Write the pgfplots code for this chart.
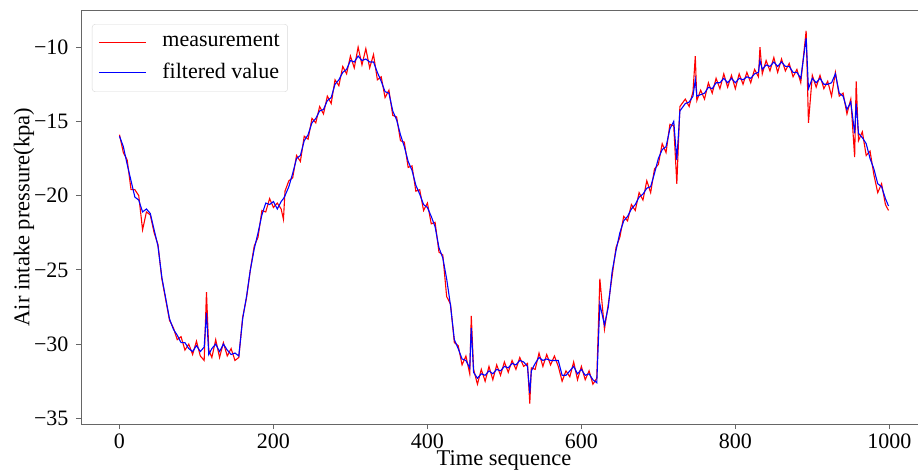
\documentclass[border=0pt]{standalone}
\usepackage{fontspec}
\setmainfont{Liberation Serif}
\usepackage{pgfplots}
\pgfplotsset{compat=1.18}
\pgfplotstableread{
x y
0 -15.9
5 -17.1
10 -17.6
15 -19.6
20 -19.6
25 -20.0
30 -22.3
35 -21.1
40 -21.3
45 -22.5
50 -23.3
55 -25.6
60 -27.0
65 -28.4
70 -28.9
75 -29.7
80 -29.5
85 -30.4
90 -30.0
95 -30.7
100 -29.8
105 -30.8
110 -31.1
113 -26.5
116 -30.4
120 -30.9
125 -29.7
130 -30.9
135 -29.9
140 -30.8
145 -30.3
150 -31.1
155 -30.9
160 -28.2
165 -26.9
170 -25.0
175 -23.4
180 -22.8
185 -21.0
190 -21.1
195 -20.2
200 -20.8
205 -20.5
210 -20.9
213 -21.6
215 -19.7
220 -19.0
225 -18.8
230 -17.3
235 -17.7
240 -16.0
245 -16.2
250 -14.8
255 -15.1
260 -14.0
265 -14.5
270 -13.3
275 -13.8
280 -12.2
285 -12.6
290 -11.3
295 -11.8
300 -10.6
305 -11.4
310 -10.0
315 -11.2
320 -10.1
325 -11.4
330 -10.5
335 -12.2
340 -12.0
345 -13.4
350 -12.9
355 -14.6
360 -14.7
365 -16.3
370 -16.4
375 -18.1
380 -18.0
385 -19.7
390 -19.6
395 -21.0
400 -20.5
405 -21.9
410 -21.8
415 -23.8
420 -24.0
425 -26.8
430 -27.3
435 -29.9
440 -30.1
445 -31.4
450 -30.8
455 -32.0
457 -28.1
460 -31.7
465 -32.7
470 -31.7
475 -32.5
480 -31.5
485 -32.4
490 -31.4
495 -32.1
500 -31.2
505 -31.9
510 -31.1
515 -31.7
520 -30.9
525 -31.5
530 -31.3
533 -34.0
535 -31.6
540 -31.7
545 -30.6
550 -31.5
555 -30.7
560 -31.4
565 -30.8
570 -31.5
575 -32.5
580 -31.8
585 -32.2
590 -31.2
595 -32.4
600 -31.5
605 -32.4
610 -31.8
615 -32.7
620 -32.3
624 -25.6
630 -29.0
635 -27.3
640 -25.4
645 -23.5
650 -22.8
655 -21.4
660 -21.7
665 -20.6
670 -21.0
675 -19.8
680 -20.3
685 -19.0
690 -19.8
695 -18.2
700 -17.9
705 -16.5
710 -17.1
715 -15.2
720 -15.3
724 -19.2
728 -14.0
735 -13.5
740 -14.0
745 -13.0
748 -10.6
750 -13.6
755 -12.9
760 -13.5
765 -12.4
770 -13.1
775 -12.1
780 -12.8
785 -11.8
790 -12.7
795 -11.9
800 -12.8
805 -11.8
810 -12.5
815 -11.7
820 -12.4
825 -11.5
830 -12.0
832 -10.0
835 -11.8
840 -10.9
845 -11.6
850 -10.7
855 -11.7
860 -10.8
865 -11.6
870 -11.1
875 -12.0
880 -11.5
885 -12.4
892 -8.9
895 -15.1
900 -11.9
905 -12.7
910 -11.9
915 -12.8
920 -12.3
925 -13.3
930 -11.7
935 -13.3
940 -13.1
945 -14.5
950 -13.5
955 -17.4
957 -12.3
960 -16.3
965 -15.7
970 -17.3
975 -17.0
980 -18.6
985 -19.8
990 -19.2
995 -20.6
999 -21.0
}\measured
\pgfplotstableread{
x y
0 -16.0
5 -16.7
10 -17.9
15 -19.0
20 -20.1
25 -20.3
30 -21.1
35 -20.9
40 -21.2
45 -22.3
50 -23.4
55 -25.5
60 -26.9
65 -28.3
70 -29.0
75 -29.4
80 -29.9
85 -29.9
90 -30.3
95 -30.5
100 -30.1
105 -30.5
110 -30.2
113 -27.9
116 -30.7
120 -30.3
125 -30.0
130 -30.5
135 -30.0
140 -30.4
145 -30.7
150 -30.6
155 -30.8
160 -28.3
165 -26.8
170 -25.0
175 -23.6
180 -22.5
185 -21.3
190 -20.5
195 -20.6
200 -20.4
205 -20.9
210 -20.4
213 -20.2
215 -20.0
220 -19.4
225 -18.5
230 -17.5
235 -17.3
240 -16.3
245 -15.9
250 -15.1
255 -14.8
260 -14.3
265 -14.2
270 -13.6
275 -13.4
280 -12.5
285 -12.2
290 -11.7
295 -11.5
300 -10.9
305 -11.0
310 -10.6
315 -10.9
320 -10.8
325 -11.0
330 -11.0
335 -11.7
340 -12.3
345 -13.0
350 -13.1
355 -14.3
360 -14.9
365 -15.9
370 -16.7
375 -17.7
380 -18.3
385 -19.3
390 -19.9
395 -20.6
400 -20.8
405 -21.4
410 -22.1
415 -23.5
420 -24.2
425 -25.6
430 -27.4
435 -29.7
440 -30.3
445 -31.0
450 -31.1
455 -31.6
457 -28.9
460 -31.9
465 -32.3
470 -32.0
475 -32.1
480 -31.8
485 -32.0
490 -31.7
495 -31.8
500 -31.5
505 -31.6
510 -31.3
515 -31.4
520 -31.1
525 -31.2
530 -31.5
533 -33.3
535 -31.8
540 -31.3
545 -30.9
550 -31.1
555 -31.0
560 -31.1
565 -31.1
570 -31.1
575 -32.1
580 -32.1
585 -31.8
590 -31.5
595 -32.0
600 -31.7
605 -32.1
610 -32.0
615 -32.4
620 -32.6
624 -27.3
630 -28.7
635 -27.5
640 -25.1
645 -23.7
650 -22.5
655 -21.7
660 -21.4
665 -20.9
670 -20.6
675 -20.1
680 -19.9
685 -19.5
690 -19.4
695 -18.5
700 -17.5
705 -16.9
710 -16.7
715 -15.5
720 -15.0
724 -17.6
728 -14.3
735 -13.8
740 -13.7
745 -13.3
748 -12.2
750 -13.3
755 -13.2
760 -13.1
765 -12.7
770 -12.8
775 -12.4
780 -12.4
785 -12.1
790 -12.4
795 -12.1
800 -12.4
805 -12.1
810 -12.2
815 -12.0
820 -12.1
825 -11.8
830 -11.7
832 -10.9
835 -11.5
840 -11.2
845 -11.3
850 -11.0
855 -11.3
860 -11.0
865 -11.3
870 -11.3
875 -11.7
880 -11.7
885 -12.1
892 -9.4
895 -12.8
900 -12.1
905 -12.4
910 -12.1
915 -12.5
920 -12.5
925 -12.4
930 -11.8
935 -13.1
940 -13.3
945 -14.2
950 -13.7
955 -15.8
957 -13.8
960 -15.8
965 -16.1
970 -16.5
975 -17.5
980 -18.2
985 -19.2
990 -19.4
995 -20.2
999 -20.7
}\filtered
\begin{document}
\fontsize{22}{26}\selectfont
\begin{tikzpicture}
\begin{axis}[
  scale only axis, width=846pt, height=414pt,
  xmin=-50, xmax=1049, ymin=-35.38, ymax=-7.5,
  axis line style={black!60, line width=0.8pt},
  tick align=outside, xtick pos=bottom, ytick pos=left,
  major tick length=5pt,
  every tick/.style={black!60, line width=0.8pt},
  xtick={0,200,400,600,800,1000},
  xticklabels={0,200,400,600,800,1000},
  ytick={-35,-30,-25,-20,-15,-10},
  yticklabels={−35,−30,−25,−20,−15,−10},
  tick label style={font=\fontsize{22}{26}\selectfont},
  xticklabel style={yshift=3pt},
  label style={font=\fontsize{22.5}{26}\selectfont},
  xlabel={Time sequence}, ylabel={Air intake pressure(kpa)},
  xlabel style={at={(axis description cs:0.5,-0.087)}, anchor=center},
  ylabel style={at={(axis description cs:-0.0674,0.5)}, anchor=center},
  legend style={at={(0.013,0.966)}, anchor=north west, draw=black!15, rounded corners=3pt,
    font=\fontsize{22}{26}\selectfont, inner xsep=6pt, inner ysep=8pt, row sep=9pt},
  legend cell align=left,
  legend image code/.code={\draw[#1, line width=1.2pt] (0pt,0pt) -- (47pt,0pt);},
]
\addplot[red, line width=1.1pt] table[x=x, y=y] {\measured};
\addlegendentry{\hspace{14pt}measurement}
\addplot[blue, line width=1.1pt] table[x=x, y=y] {\filtered};
\addlegendentry{\hspace{14pt}filtered value}
\end{axis}
\pgfresetboundingbox
\path[use as bounding box] ([shift={(-81pt,-51pt)}]current axis.south west) rectangle ++(918pt,475pt);
\end{tikzpicture}
\end{document}
